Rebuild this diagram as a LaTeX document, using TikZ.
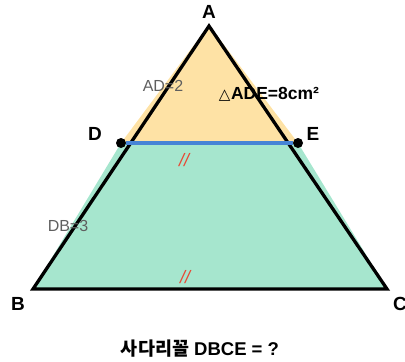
\documentclass[tikz,border=0pt]{standalone}
\usepackage{fontspec}
\setmainfont{Liberation Sans}
\newfontfamily\krfont{Noto Sans CJK KR}
\newfontfamily\symfont{DejaVu Sans}
\definecolor{orangefill}{RGB}{254,226,165}
\definecolor{greenfill}{RGB}{166,230,206}
\definecolor{blueline}{RGB}{70,132,214}
\definecolor{redmark}{RGB}{232,72,52}
\definecolor{graytext}{RGB}{95,95,95}
\begin{document}
\begin{tikzpicture}[x=1pt,y=-1pt,
  vlabel/.style={font=\fontsize{19}{21}\selectfont\bfseries, inner sep=0pt},
  glabel/.style={font=\fontsize{16}{18}\selectfont, text=graytext, inner sep=0pt},
  parmark/.style={font=\fontsize{18}{20}\selectfont\itshape, text=redmark, inner sep=0pt},
  dot/.style={circle, fill=black, inner sep=0pt, minimum size=10pt},
  edge/.style={line width=3.3pt, line join=miter}]
\useasboundingbox (0,0) rectangle (405,362);
% fills
\fill[orangefill] (209,25) -- (121,143) -- (298,143) -- cycle;
\fill[greenfill] (121,143) -- (298,143) -- (387,289) -- (33,289) -- cycle;
% triangle
\coordinate (pA) at (209,26);
\coordinate (pB) at (33,289);
\coordinate (pC) at (387,289);
\draw[edge] (pA) -- (pB) -- (pC) -- cycle;
% DE
\node[dot] (pD) at (121,143) {};
\node[dot] (pE) at (298,143) {};
\draw[blueline, line width=3.6pt] (pD) -- (pE);
% vertex labels
\node[vlabel] (lA) at (209,12) {A};
\node[vlabel] (lD) at (95,134) {D};
\node[vlabel] (lE) at (313,134) {E};
\node[vlabel] (lB) at (18,304) {B};
\node[vlabel] (lC) at (400,304) {C};
% other labels
\node[glabel] (ad) at (163,86) {AD=2};
\node[glabel] (db) at (68,226) {DB=3};
\node[inner sep=0pt] (area) at (269,94) {{\symfont\fontsize{15}{17}\selectfont △}\hspace{0.5pt}{\fontsize{17.5}{19}\selectfont\bfseries ADE=8cm²}};
\node[parmark] (m1) at (184,160) {//};
\node[parmark] (m2) at (185,277) {//};
\node[font=\fontsize{18.5}{21}\selectfont\bfseries, inner sep=0pt] (title) at (200,349) {{\krfont\bfseries 사다리꼴} DBCE = ?};
\end{tikzpicture}
\end{document}
